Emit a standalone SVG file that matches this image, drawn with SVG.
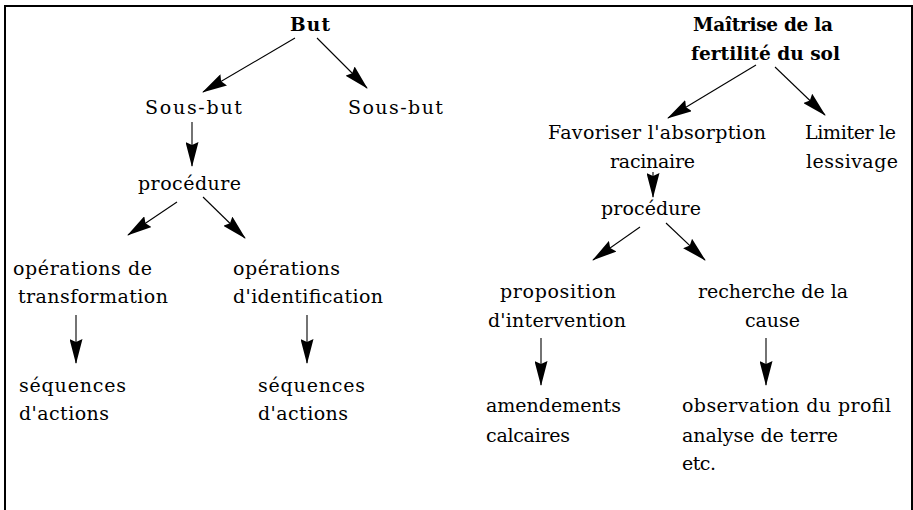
<svg xmlns="http://www.w3.org/2000/svg" width="913" height="510" viewBox="0 0 913 510">
<style>
text{font-family:"DejaVu Serif","Liberation Serif",serif;font-size:19px;fill:#000}
.b{font-weight:bold;font-size:18.5px}
.c line{stroke:#000;stroke-width:1.1;marker-end:url(#ah)}
</style>
<defs>
<marker id="ah" markerUnits="userSpaceOnUse" viewBox="0 0 25 13" refX="24" refY="6.5" markerWidth="25" markerHeight="13" orient="auto">
<path d="M0,0 L25,6.5 L0,13 L3,6.5 Z" fill="#000"/>
</marker>
</defs>
<rect width="913" height="510" fill="#fff"/>
<path d="M5,510 V6 H912 V510" fill="none" stroke="#000" stroke-width="2"/>
<g id="n-but"><text class="b" x="290" y="31" textLength="40">But</text></g>
<g id="n-sousbut1"><text x="145" y="114" textLength="97">Sous-but</text></g>
<g id="n-sousbut2"><text x="348" y="114" textLength="95">Sous-but</text></g>
<g id="n-proc1"><text x="138" y="190" textLength="103">procédure</text></g>
<g id="n-optrans"><text x="13" y="275" textLength="139">opérations de</text><text x="18" y="303" textLength="150">transformation</text></g>
<g id="n-opident"><text x="233" y="275" textLength="107">opérations</text><text x="233" y="303" textLength="150">d'identification</text></g>
<g id="n-seq1"><text x="19" y="392" textLength="107">séquences</text><text x="19" y="420" textLength="90">d'actions</text></g>
<g id="n-seq2"><text x="258" y="392" textLength="107">séquences</text><text x="258" y="420" textLength="90">d'actions</text></g>
<g id="n-maitrise"><text class="b" x="693" y="31" textLength="140">Maîtrise de la</text><text class="b" x="691" y="60" textLength="149">fertilité du sol</text></g>
<g id="n-favoriser"><text x="548" y="139" textLength="218">Favoriser l'absorption</text><text x="610" y="168" textLength="85">racinaire</text></g>
<g id="n-limiter"><text x="805" y="139" textLength="91">Limiter le</text><text x="806" y="168" textLength="92">lessivage</text></g>
<g id="n-proc2"><text x="601" y="215" textLength="100">procédure</text></g>
<g id="n-proposition"><text x="500" y="298" textLength="116">proposition</text><text x="488" y="327" textLength="138">d'intervention</text></g>
<g id="n-recherche"><text x="698" y="298" textLength="150">recherche de la</text><text x="745" y="327" textLength="55">cause</text></g>
<g id="n-amendements"><text x="486" y="412" textLength="135">amendements</text><text x="486" y="442" textLength="84">calcaires</text></g>
<g id="n-observation"><text x="682" y="412" textLength="209">observation du profil</text><text x="682" y="442" textLength="156">analyse de terre</text><text x="682" y="470" textLength="34">etc.</text></g>
<g id="connectors" class="c">
<line x1="295" y1="38" x2="203" y2="92"/>
<line x1="317" y1="38" x2="367" y2="88"/>
<line x1="192" y1="122" x2="192" y2="166"/>
<line x1="177" y1="202" x2="128" y2="235"/>
<line x1="203" y1="197" x2="245" y2="238"/>
<line x1="76" y1="315" x2="76" y2="363"/>
<line x1="307" y1="315" x2="307" y2="363"/>
<line x1="756" y1="65" x2="668" y2="118"/>
<line x1="775" y1="67" x2="825" y2="115"/>
<line x1="653" y1="172" x2="653" y2="197"/>
<line x1="640" y1="227" x2="593" y2="260"/>
<line x1="666" y1="223" x2="705" y2="260"/>
<line x1="541" y1="338" x2="541" y2="385"/>
<line x1="766" y1="338" x2="766" y2="385"/>
</g>
</svg>
